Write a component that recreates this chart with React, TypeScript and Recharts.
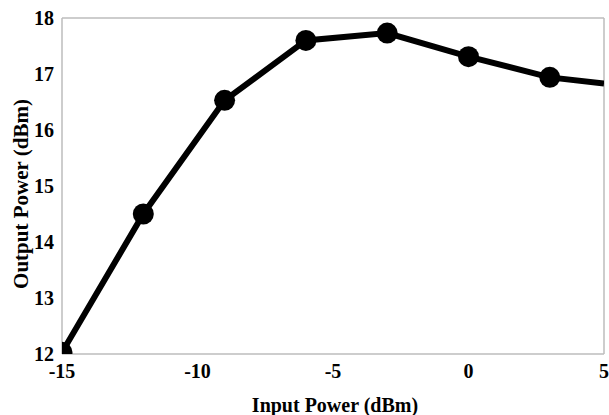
import { LineChart, Line, XAxis, YAxis, CartesianGrid } from 'recharts';

// amplifier compression sweep
const inputPower = [-15, -12, -9, -6, -3, 0, 3, 5];
const outputPower = [12.03, 14.5, 16.53, 17.6, 17.73, 17.31, 16.94, 16.83];
// the last sample only carries the line to the edge, no marker
const hasMarker = [true, true, true, true, true, true, true, false];

const xTicks = [-15, -10, -5, 0, 5];
const yTicks = [12, 13, 14, 15, 16, 17, 18];

const data = inputPower.map((x, i) => ({ x, y: outputPower[i], marker: hasMarker[i] }));

const font = 'Liberation Serif';
const frameColor = '#bdbdbd';

const MarkerDot = (props: any) => {
  const { cx, cy, payload, index } = props;
  if (!payload.marker) return <g key={index} />;
  return <circle key={index} cx={cx} cy={cy} r={10.5} fill="#000" stroke="none" />;
};

const XTick = (props: any) => {
  const { x, y, payload } = props;
  return (
    <text x={x} y={y + 8} textAnchor="middle" dominantBaseline="hanging"
      fontFamily={font} fontWeight="bold" fontSize={20} fill="#000">
      {payload.value}
    </text>
  );
};

const YTick = (props: any) => {
  const { x, y, payload } = props;
  return (
    <text x={x - 6} y={y} textAnchor="end" dominantBaseline="central"
      fontFamily={font} fontWeight="bold" fontSize={20} fill="#000">
      {payload.value}
    </text>
  );
};

export default function App() {
  return (
    <div style={{ position: 'absolute', left: 0, top: 0, background: '#fff', fontFamily: font }}>
      <LineChart width={609} height={415} data={data} margin={{ top: 18, right: 5, left: 0, bottom: 0 }}>
        {/* plot frame: grid lines only on the outer edges */}
        <CartesianGrid
          stroke={frameColor}
          strokeWidth={1.5}
          horizontalPoints={[18, 354]}
          verticalPoints={[62, 604]}
        />
        <XAxis
          dataKey="x"
          type="number"
          domain={[-15, 5]}
          ticks={xTicks}
          allowDataOverflow
          axisLine={false}
          tickLine={false}
          tickSize={0}
          height={61}
          tick={<XTick />}
          label={{
            content: () => (
              <text x={335} y={405} textAnchor="middle" dominantBaseline="central"
                fontFamily={font} fontWeight="bold" fontSize={20} fill="#000">
                Input Power (dBm)
              </text>
            ),
          }}
        />
        <YAxis
          type="number"
          domain={[12, 18]}
          ticks={yTicks}
          allowDataOverflow
          axisLine={false}
          tickLine={false}
          tickSize={0}
          width={62}
          tick={<YTick />}
          label={{
            content: () => (
              <text x={21} y={194} textAnchor="middle" dominantBaseline="central"
                transform="rotate(-90 21 194)"
                fontFamily={font} fontWeight="bold" fontSize={21} fill="#000">
                Output Power (dBm)
              </text>
            ),
          }}
        />
        <Line
          dataKey="y"
          stroke="#000"
          strokeWidth={6}
          dot={MarkerDot}
          activeDot={false}
          isAnimationActive={false}
        />
      </LineChart>
    </div>
  );
}
